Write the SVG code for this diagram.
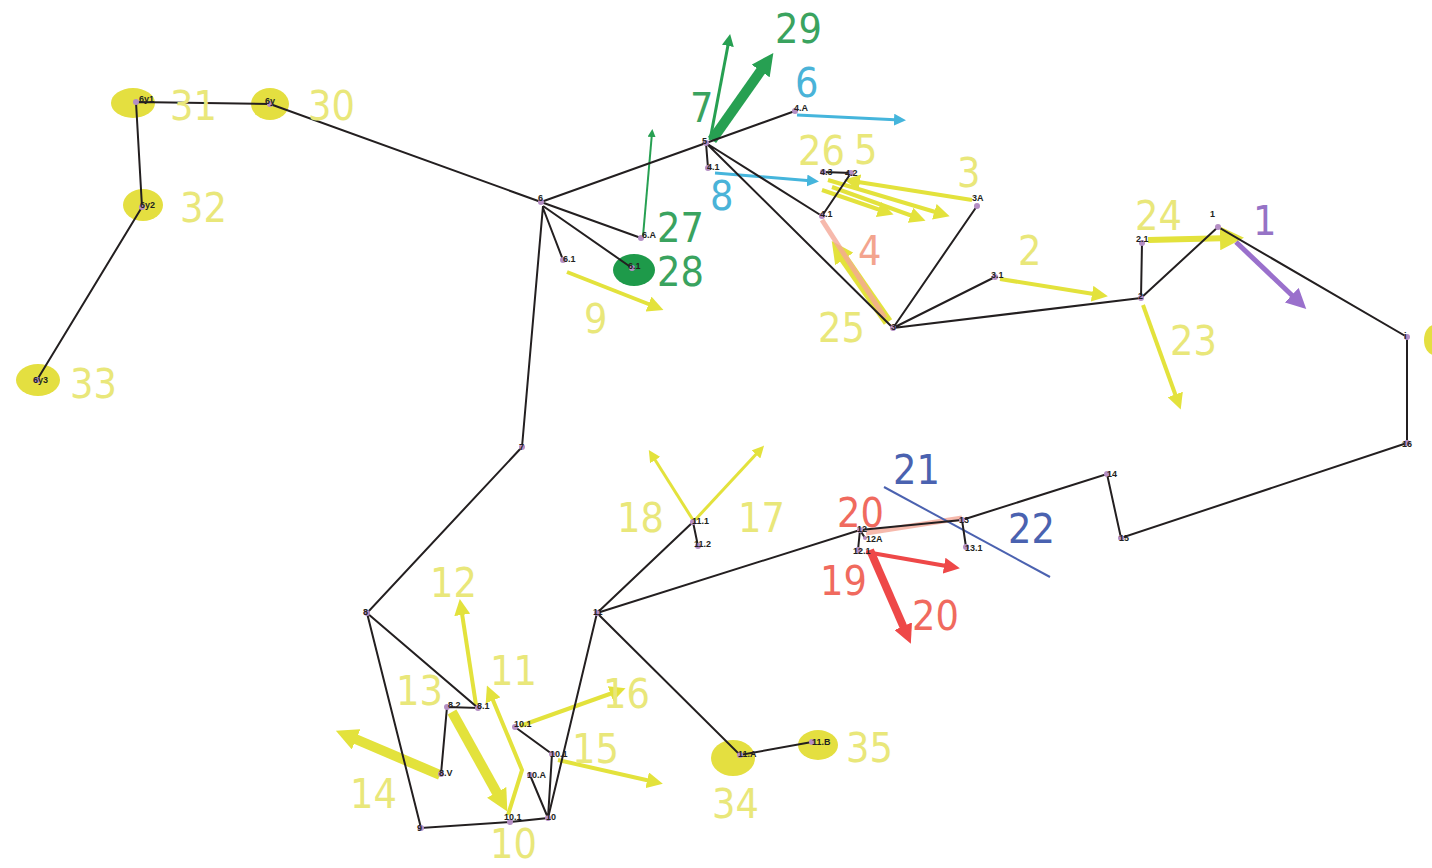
<svg xmlns="http://www.w3.org/2000/svg" width="1432" height="868" viewBox="0 0 1432 868">
<style>
.e{stroke:#231f20;stroke-width:2;fill:none}
.lb{font-family:"Liberation Sans",sans-serif;font-size:9px;font-weight:bold;fill:#231f20}
.d{fill:#b48ec4}
.n{font-family:"Liberation Sans Narrow","DejaVu Sans Condensed","Liberation Sans",sans-serif;font-size:41px}
.y{fill:#e9e77a}.g{fill:#3aa35f}.b{fill:#4ab3d8}.r{fill:#f06a5e}.s{fill:#f3a48e}.p{fill:#9673c6}.db{fill:#4a62b0}
.ya{stroke:#e3e23c;fill:none}.ga{stroke:#27a052;fill:none}.ba{stroke:#45b5dc;fill:none}.ra{stroke:#ee4848;fill:none}.pa{stroke:#9a70cc;fill:none}
.ye{fill:#e4df40}
</style>
<defs>
<marker id="my" viewBox="0 0 10 10" refX="5" refY="5" markerWidth="4" markerHeight="4" orient="auto"><path d="M0,0L10,5L0,10z" fill="#e3e23c"/></marker>
<marker id="mg" viewBox="0 0 10 10" refX="5" refY="5" markerWidth="4" markerHeight="4" orient="auto"><path d="M0,0L10,5L0,10z" fill="#27a052"/></marker>
<marker id="mb" viewBox="0 0 10 10" refX="5" refY="5" markerWidth="4" markerHeight="4" orient="auto"><path d="M0,0L10,5L0,10z" fill="#45b5dc"/></marker>
<marker id="mr" viewBox="0 0 10 10" refX="5" refY="5" markerWidth="4" markerHeight="4" orient="auto"><path d="M0,0L10,5L0,10z" fill="#ee4848"/></marker>
<marker id="mp" viewBox="0 0 10 10" refX="5" refY="5" markerWidth="4" markerHeight="4" orient="auto"><path d="M0,0L10,5L0,10z" fill="#9a70cc"/></marker>
<marker id="myt" viewBox="0 0 10 10" refX="5" refY="5" markerWidth="2.2" markerHeight="2.2" orient="auto"><path d="M0,0L10,5L0,10z" fill="#e3e23c"/></marker>
<marker id="mgt" viewBox="0 0 10 10" refX="5" refY="5" markerWidth="2.2" markerHeight="2.2" orient="auto"><path d="M0,0L10,5L0,10z" fill="#27a052"/></marker>
<marker id="mrt" viewBox="0 0 10 10" refX="5" refY="5" markerWidth="2.4" markerHeight="2.4" orient="auto"><path d="M0,0L10,5L0,10z" fill="#ee4848"/></marker>
</defs>
<rect width="1432" height="868" fill="#ffffff"/>

<g id="highlights">
<ellipse class="ye" cx="133" cy="103" rx="22" ry="15"/>
<ellipse class="ye" cx="270" cy="104" rx="19" ry="16"/>
<ellipse class="ye" cx="143" cy="205" rx="20" ry="16"/>
<ellipse class="ye" cx="38" cy="380" rx="22" ry="16"/>
<ellipse class="ye" cx="733" cy="758" rx="22" ry="18"/>
<ellipse class="ye" cx="818" cy="745" rx="20" ry="15"/>
<ellipse class="ye" cx="1434" cy="340" rx="10" ry="15"/>
<ellipse fill="#1e9a4a" cx="634" cy="270" rx="21" ry="16"/>
</g>

<g id="arrows">
<line class="ya" x1="567" y1="272" x2="656" y2="307" stroke-width="4" marker-end="url(#my)"/>
<line class="ya" x1="1000" y1="279" x2="1100" y2="295" stroke-width="4" marker-end="url(#my)"/>
<line class="ya" x1="1148" y1="240" x2="1232" y2="238" stroke-width="6" marker-end="url(#my)"/>
<line class="ya" x1="1143" y1="305" x2="1178" y2="402" stroke-width="4" marker-end="url(#my)"/>
<line class="ya" x1="972" y1="200" x2="852" y2="181" stroke-width="4" marker-end="url(#my)"/>
<line class="ya" x1="828" y1="180" x2="942" y2="214" stroke-width="4" marker-end="url(#my)"/>
<line class="ya" x1="832" y1="187" x2="918" y2="218" stroke-width="4" marker-end="url(#my)"/>
<line class="ya" x1="822" y1="190" x2="886" y2="212" stroke-width="4" marker-end="url(#my)"/>
<line class="ya" x1="888" y1="322" x2="838" y2="250" stroke-width="10" marker-end="url(#myt)"/>
<line class="ya" x1="476" y1="705" x2="461" y2="607" stroke-width="4" marker-end="url(#my)"/>
<polyline class="ya" points="508,815 522,770 490,693" stroke-width="4" marker-end="url(#my)"/>
<line class="ya" x1="452" y1="712" x2="502" y2="802" stroke-width="10" marker-end="url(#myt)"/>
<line class="ya" x1="440" y1="775" x2="346" y2="735" stroke-width="10" marker-end="url(#myt)"/>
<line class="ya" x1="520" y1="726" x2="618" y2="691" stroke-width="4" marker-end="url(#my)"/>
<line class="ya" x1="558" y1="760" x2="655" y2="782" stroke-width="4" marker-end="url(#my)"/>
<line class="ya" x1="693" y1="520" x2="652" y2="455" stroke-width="3" marker-end="url(#my)"/>
<line class="ya" x1="695" y1="520" x2="760" y2="450" stroke-width="3" marker-end="url(#my)"/>
<line class="ga" x1="712" y1="140" x2="767" y2="62" stroke-width="10" marker-end="url(#mgt)"/>
<line class="ga" x1="710" y1="140" x2="729" y2="40" stroke-width="3" marker-end="url(#mg)"/>
<line class="ga" x1="643" y1="236" x2="652" y2="133" stroke-width="2" marker-end="url(#mg)"/>
<line class="ba" x1="797" y1="115" x2="900" y2="120" stroke-width="3" marker-end="url(#mb)"/>
<line class="ba" x1="715" y1="173" x2="813" y2="181" stroke-width="3" marker-end="url(#mb)"/>
<line stroke="#f5a898" x1="822" y1="220" x2="885" y2="318" stroke-width="5" opacity="0.8"/>
<line stroke="#f5a898" x1="866" y1="533" x2="962" y2="518" stroke-width="5" opacity="0.8"/>
<line class="ra" x1="866" y1="552" x2="952" y2="567" stroke-width="4" marker-end="url(#mr)"/>
<line class="ra" x1="870" y1="550" x2="907" y2="635" stroke-width="8" marker-end="url(#mrt)"/>
<line class="pa" x1="1236" y1="242" x2="1299" y2="302" stroke-width="5" marker-end="url(#mp)"/>
<line stroke="#4b62b0" x1="884" y1="487" x2="1050" y2="577" stroke-width="2"/>
</g>

<g id="connectors">
<path class="e" d="M136,102L270,104M136,102L142,207M142,207L37,380M270,104L541,202"/>
<path class="e" d="M541,202L706,143M541,202L641,238M543,206L632,268M543,208L563,260M543,206L522,447"/>
<path class="e" d="M706,143L795,111M706,143L708,168M706,143L822,216M706,143L893,328M822,216L851,173L823,172"/>
<path class="e" d="M893,328L977,206M893,328L995,277M893,328L1141,298M1141,298L1142,243M1141,298L1218,227L1407,337L1407,443L1121,538L1107,474L962,520L966,547M962,520L860,530L597,613"/>
<path class="e" d="M860,530L865,538M860,530L858,550"/>
<path class="e" d="M522,447L367,613L421,828L510,822L548,818L597,613M367,613L478,708L447,707L441,774"/>
<path class="e" d="M548,818L530,775M548,818L552,754L515,727"/>
<path class="e" d="M597,613L693,522L698,546M597,613L740,755L812,742"/>
</g>

<g id="nodes">
<g id="n6y1"><circle class="d" cx="136" cy="102" r="3"/><text class="lb" x="139" y="102">6y1</text></g>
<g id="n6y"><circle class="d" cx="270" cy="104" r="3"/><text class="lb" x="265" y="104">6y</text></g>
<g id="n6y2"><circle class="d" cx="142" cy="207" r="3"/><text class="lb" x="140" y="208">6y2</text></g>
<g id="n6y3"><circle class="d" cx="37" cy="380" r="3"/><text class="lb" x="33" y="383">6y3</text></g>
<g id="n6"><circle class="d" cx="541" cy="202" r="3"/><text class="lb" x="538" y="201">6</text></g>
<g id="n6A"><circle class="d" cx="641" cy="238" r="3"/><text class="lb" x="642" y="238">6.A</text></g>
<g id="n61g"><circle class="d" cx="632" cy="268" r="3"/><text class="lb" x="628" y="269">6.1</text></g>
<g id="n61y"><circle class="d" cx="563" cy="260" r="3"/><text class="lb" x="563" y="262">6.1</text></g>
<g id="n5"><circle class="d" cx="706" cy="143" r="3"/><text class="lb" x="702" y="144">5</text></g>
<g id="n4A"><circle class="d" cx="795" cy="111" r="3"/><text class="lb" x="794" y="111">4.A</text></g>
<g id="n41a"><circle class="d" cx="708" cy="168" r="3"/><text class="lb" x="707" y="170">4.1</text></g>
<g id="n43"><circle class="d" cx="823" cy="172" r="3"/><text class="lb" x="820" y="175">4.3</text></g>
<g id="n42"><circle class="d" cx="851" cy="173" r="3"/><text class="lb" x="845" y="176">4.2</text></g>
<g id="n41"><circle class="d" cx="822" cy="216" r="3"/><text class="lb" x="820" y="217">4.1</text></g>
<g id="n3A"><circle class="d" cx="977" cy="206" r="3"/><text class="lb" x="972" y="201">3A</text></g>
<g id="n3"><circle class="d" cx="893" cy="328" r="3"/><text class="lb" x="891" y="330">3</text></g>
<g id="n31"><circle class="d" cx="995" cy="277" r="3"/><text class="lb" x="991" y="278">3.1</text></g>
<g id="n2"><circle class="d" cx="1141" cy="298" r="3"/><text class="lb" x="1138" y="299">2</text></g>
<g id="n21"><circle class="d" cx="1142" cy="243" r="3"/><text class="lb" x="1136" y="242">2.1</text></g>
<g id="n1"><circle class="d" cx="1218" cy="227" r="3"/><text class="lb" x="1210" y="217">1</text></g>
<g id="n17"><circle class="d" cx="1407" cy="337" r="3"/><text class="lb" x="1404" y="339">i</text></g>
<g id="n16"><circle class="d" cx="1407" cy="443" r="3"/><text class="lb" x="1402" y="447">16</text></g>
<g id="n15"><circle class="d" cx="1121" cy="538" r="3"/><text class="lb" x="1119" y="541">15</text></g>
<g id="n14"><circle class="d" cx="1107" cy="474" r="3"/><text class="lb" x="1107" y="477">14</text></g>
<g id="n13"><circle class="d" cx="962" cy="520" r="3"/><text class="lb" x="959" y="523">13</text></g>
<g id="n131"><circle class="d" cx="966" cy="547" r="3"/><text class="lb" x="965" y="551">13.1</text></g>
<g id="n12"><circle class="d" cx="860" cy="530" r="3"/><text class="lb" x="857" y="532">12</text></g>
<g id="n12A"><circle class="d" cx="865" cy="538" r="2"/><text class="lb" x="866" y="542">12A</text></g>
<g id="n121"><circle class="d" cx="858" cy="550" r="3"/><text class="lb" x="853" y="554">12.1</text></g>
<g id="n11"><circle class="d" cx="597" cy="613" r="3"/><text class="lb" x="593" y="615">11</text></g>
<g id="n111"><circle class="d" cx="693" cy="522" r="3"/><text class="lb" x="692" y="524">11.1</text></g>
<g id="n112"><circle class="d" cx="698" cy="546" r="3"/><text class="lb" x="694" y="547">11.2</text></g>
<g id="n11A"><circle class="d" cx="740" cy="755" r="3"/><text class="lb" x="738" y="757">11.A</text></g>
<g id="n11B"><circle class="d" cx="812" cy="742" r="3"/><text class="lb" x="812" y="745">11.B</text></g>
<g id="n10"><circle class="d" cx="548" cy="818" r="3"/><text class="lb" x="546" y="820">10</text></g>
<g id="n101"><circle class="d" cx="510" cy="822" r="3"/><text class="lb" x="504" y="820">10.1</text></g>
<g id="n10A"><circle class="d" cx="530" cy="775" r="3"/><text class="lb" x="527" y="778">10.A</text></g>
<g id="n101b"><circle class="d" cx="552" cy="754" r="3"/><text class="lb" x="550" y="757">10.1</text></g>
<g id="n101c"><circle class="d" cx="515" cy="727" r="3"/><text class="lb" x="514" y="727">10.1</text></g>
<g id="n9"><circle class="d" cx="421" cy="828" r="3"/><text class="lb" x="417" y="831">9</text></g>
<g id="n8"><circle class="d" cx="367" cy="613" r="3"/><text class="lb" x="363" y="615">8</text></g>
<g id="n81"><circle class="d" cx="478" cy="708" r="3"/><text class="lb" x="477" y="709">8.1</text></g>
<g id="n82"><circle class="d" cx="447" cy="707" r="3"/><text class="lb" x="448" y="708">8.2</text></g>
<g id="n8V"><circle class="d" cx="441" cy="774" r="3"/><text class="lb" x="439" y="776">8.V</text></g>
<g id="n7"><circle class="d" cx="522" cy="447" r="3"/><text class="lb" x="519" y="450">7</text></g>
</g>

<g id="numbers">
<text class="n y" x="170" y="120">31</text>
<text class="n y" x="308" y="120">30</text>
<text class="n y" x="180" y="222">32</text>
<text class="n y" x="70" y="398">33</text>
<text class="n g" x="775" y="43">29</text>
<text class="n g" x="690" y="122">7</text>
<text class="n b" x="795" y="97">6</text>
<text class="n y" x="798" y="165">26</text>
<text class="n y" x="854" y="164">5</text>
<text class="n y" x="957" y="187">3</text>
<text class="n b" x="710" y="210">8</text>
<text class="n g" x="657" y="242">27</text>
<text class="n g" x="657" y="286">28</text>
<text class="n y" x="584" y="333">9</text>
<text class="n s" x="858" y="265">4</text>
<text class="n y" x="818" y="342">25</text>
<text class="n y" x="1018" y="265">2</text>
<text class="n y" x="1135" y="230">24</text>
<text class="n p" x="1253" y="235">1</text>
<text class="n y" x="1170" y="355">23</text>
<text class="n db" x="893" y="484">21</text>
<text class="n db" x="1008" y="543">22</text>
<text class="n r" x="837" y="527">20</text>
<text class="n r" x="820" y="595">19</text>
<text class="n r" x="912" y="630">20</text>
<text class="n y" x="617" y="532">18</text>
<text class="n y" x="738" y="532">17</text>
<text class="n y" x="430" y="597">12</text>
<text class="n y" x="490" y="685">11</text>
<text class="n y" x="396" y="705">13</text>
<text class="n y" x="603" y="708">16</text>
<text class="n y" x="572" y="763">15</text>
<text class="n y" x="350" y="808">14</text>
<text class="n y" x="490" y="858">10</text>
<text class="n y" x="712" y="818">34</text>
<text class="n y" x="846" y="762">35</text>
</g>
</svg>
